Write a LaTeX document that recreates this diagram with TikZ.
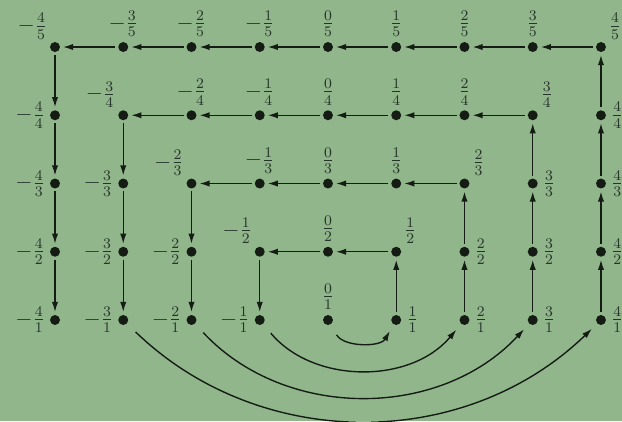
\documentclass[tikz,border=0pt]{standalone}
\usepackage{amsmath}
\usepackage{tikz}
\usetikzlibrary{arrows.meta}
\definecolor{BoardGreen}{HTML}{91B68B}
\definecolor{InkDark}{HTML}{141C14}
\definecolor{InkSoft}{HTML}{26352A}
\newcommand{\ratlab}[2]{\ifnum#1<0 -\frac{\number-#1}{#2}\else\frac{#1}{#2}\fi}

\begin{document}
\begin{tikzpicture}[
    x=1.3cm,y=1.3cm,
    dot/.style={circle,fill=InkDark,inner sep=0pt,minimum size=1.9mm,outer sep=1.6pt,label distance=0pt},
    every label/.style={text=InkSoft,inner sep=1pt,font=\fontsize{11.5}{14}\selectfont},
    arr/.style={-{Latex[length=5.5pt,width=3.4pt]},line width=0.75pt,draw=InkDark},
    swing/.style={arr,shorten <=5pt,shorten >=2.5pt}
  ]
    \path[use as bounding box,fill=BoardGreen] (-4.806,-0.48) rectangle (4.308,5.689);

    % the five rows of fractions
    \foreach \n/\where in {-4/above left,-3/above,-2/above,-1/above,0/above,1/above,2/above,3/above,4/above right}
      \node[dot,label={\where:$\ratlab{\n}{5}$}] (p\n-5) at (\n,5) {};
    \foreach \n/\where in {-4/left,-3/above left,-2/above,-1/above,0/above,1/above,2/above,3/above right,4/right}
      \node[dot,label={\where:$\ratlab{\n}{4}$}] (p\n-4) at (\n,4) {};
    \foreach \n/\where in {-4/left,-3/left,-2/above left,-1/above,0/above,1/above,2/above right,3/right,4/right}
      \node[dot,label={\where:$\ratlab{\n}{3}$}] (p\n-3) at (\n,3) {};
    \foreach \n/\where in {-4/left,-3/left,-2/left,-1/above left,0/above,1/above right,2/right,3/right,4/right}
      \node[dot,label={\where:$\ratlab{\n}{2}$}] (p\n-2) at (\n,2) {};
    \foreach \n/\where in {-4/left,-3/left,-2/left,-1/left,0/above,1/right,2/right,3/right,4/right}
      \node[dot,label={\where:$\ratlab{\n}{1}$}] (p\n-1) at (\n,1) {};

    % rings, outermost first
    \foreach \d [remember=\d as \prev (initially 1)] in {2,3,4,5}
      \draw[arr] (p4-\prev) -- (p4-\d);
    \foreach \n [remember=\n as \prev (initially 4)] in {3,2,...,-4}
      \draw[arr] (p\prev-5) -- (p\n-5);
    \foreach \d [remember=\d as \prev (initially 5)] in {4,3,2,1}
      \draw[arr] (p-4-\prev) -- (p-4-\d);

    \foreach \d [remember=\d as \prev (initially 1)] in {2,3,4}
      \draw[arr] (p3-\prev) -- (p3-\d);
    \foreach \n [remember=\n as \prev (initially 3)] in {2,1,...,-3}
      \draw[arr] (p\prev-4) -- (p\n-4);
    \foreach \d [remember=\d as \prev (initially 4)] in {3,2,1}
      \draw[arr] (p-3-\prev) -- (p-3-\d);

    \foreach \d [remember=\d as \prev (initially 1)] in {2,3}
      \draw[arr] (p2-\prev) -- (p2-\d);
    \foreach \n [remember=\n as \prev (initially 2)] in {1,0,-1,-2}
      \draw[arr] (p\prev-3) -- (p\n-3);
    \foreach \d [remember=\d as \prev (initially 3)] in {2,1}
      \draw[arr] (p-2-\prev) -- (p-2-\d);

    \draw[arr] (p1-1) -- (p1-2);
    \draw[arr] (p1-2) -- (p0-2);
    \draw[arr] (p0-2) -- (p-1-2);
    \draw[arr] (p-1-2) -- (p-1-1);

    % jumps along the bottom row
    \draw[swing] (p0-1) to[bend right=60] (p1-1);
    \draw[swing] (p-1-1) to[bend right=50] (p2-1);
    \draw[swing] (p-2-1) to[bend right=47] (p3-1);
    \draw[swing] (p-3-1) to[bend right=44] (p4-1);
\end{tikzpicture}
\end{document}
